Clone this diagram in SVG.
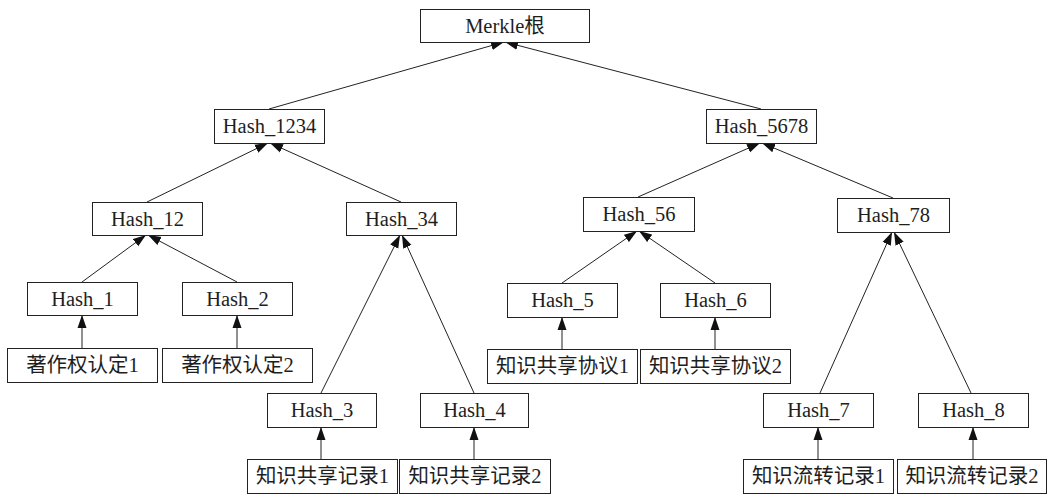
<svg xmlns="http://www.w3.org/2000/svg" width="1047" height="495" viewBox="0 0 1047 495">
  <style>
    .box { fill: #ffffff; stroke: #222222; stroke-width: 1; }
    .lbl { font-family: "Liberation Serif", "Noto Sans CJK SC", serif; font-size: 20.5px; fill: #1e1e1e; text-anchor: middle; }
    .edge { stroke: #222222; stroke-width: 1; fill: none; marker-end: url(#tip); }
  </style>
  <defs>
    <marker id="tip" markerUnits="userSpaceOnUse" markerWidth="13" markerHeight="10" refX="13" refY="5" orient="auto">
      <path d="M0,0.5 L13,5 L0,9.5 z" fill="#111111"/>
    </marker>
  </defs>
  <rect width="1047" height="495" fill="#ffffff"/>

  <!-- connectors: child top centre to parent bottom centre -->
  <g id="connectors">
    <line class="edge" x1="269" y1="109" x2="504" y2="42"/>
    <line class="edge" x1="761" y1="109" x2="505" y2="42"/>
    <line class="edge" x1="147" y1="202" x2="268" y2="143"/>
    <line class="edge" x1="401" y1="202" x2="270" y2="143"/>
    <line class="edge" x1="638" y1="197" x2="760" y2="143"/>
    <line class="edge" x1="893" y1="198" x2="762" y2="143"/>
    <line class="edge" x1="82" y1="282" x2="146" y2="235"/>
    <line class="edge" x1="237" y1="282" x2="148" y2="235"/>
    <line class="edge" x1="321" y1="393" x2="400" y2="235"/>
    <line class="edge" x1="474" y1="393" x2="402" y2="235"/>
    <line class="edge" x1="562" y1="283" x2="637" y2="231"/>
    <line class="edge" x1="715" y1="283" x2="639" y2="231"/>
    <line class="edge" x1="820" y1="393" x2="892" y2="232"/>
    <line class="edge" x1="971" y1="393" x2="894" y2="232"/>
    <line class="edge" x1="82" y1="348" x2="82" y2="315"/>
    <line class="edge" x1="237" y1="348" x2="237" y2="315"/>
    <line class="edge" x1="562" y1="349" x2="562" y2="317"/>
    <line class="edge" x1="715" y1="349" x2="715" y2="317"/>
    <line class="edge" x1="321" y1="459" x2="321" y2="427"/>
    <line class="edge" x1="474" y1="459" x2="474" y2="427"/>
    <line class="edge" x1="818" y1="459" x2="818" y2="427"/>
    <line class="edge" x1="973" y1="459" x2="973" y2="427"/>
  </g>

  <!-- root -->
  <g id="root">
    <rect class="box" x="420.5" y="9.5" width="169" height="33"/>
    <text class="lbl" x="505" y="33">Merkle根</text>
  </g>

  <!-- level 1 -->
  <g id="hash-1234">
    <rect class="box" x="214.5" y="109.5" width="110" height="34"/>
    <text class="lbl" x="269.5" y="133">Hash_1234</text>
  </g>
  <g id="hash-5678">
    <rect class="box" x="706.5" y="109.5" width="110" height="34"/>
    <text class="lbl" x="761.5" y="133">Hash_5678</text>
  </g>

  <!-- level 2 -->
  <g id="hash-12">
    <rect class="box" x="92.5" y="202.5" width="110" height="33"/>
    <text class="lbl" x="147.5" y="226">Hash_12</text>
  </g>
  <g id="hash-34">
    <rect class="box" x="346.5" y="202.5" width="110" height="33"/>
    <text class="lbl" x="401.5" y="226">Hash_34</text>
  </g>
  <g id="hash-56">
    <rect class="box" x="583.5" y="197.5" width="111" height="34"/>
    <text class="lbl" x="639" y="221">Hash_56</text>
  </g>
  <g id="hash-78">
    <rect class="box" x="837.5" y="198.5" width="112" height="34"/>
    <text class="lbl" x="893.5" y="222">Hash_78</text>
  </g>

  <!-- level 3 -->
  <g id="hash-1">
    <rect class="box" x="27.5" y="282.5" width="110" height="33"/>
    <text class="lbl" x="82.5" y="306">Hash_1</text>
  </g>
  <g id="hash-2">
    <rect class="box" x="182.5" y="282.5" width="110" height="33"/>
    <text class="lbl" x="237.5" y="306">Hash_2</text>
  </g>
  <g id="hash-3">
    <rect class="box" x="267.5" y="393.5" width="109" height="34"/>
    <text class="lbl" x="322" y="417">Hash_3</text>
  </g>
  <g id="hash-4">
    <rect class="box" x="420.5" y="393.5" width="108" height="34"/>
    <text class="lbl" x="474.5" y="417">Hash_4</text>
  </g>
  <g id="hash-5">
    <rect class="box" x="507.5" y="283.5" width="110" height="34"/>
    <text class="lbl" x="562.5" y="307">Hash_5</text>
  </g>
  <g id="hash-6">
    <rect class="box" x="660.5" y="283.5" width="110" height="34"/>
    <text class="lbl" x="715.5" y="307">Hash_6</text>
  </g>
  <g id="hash-7">
    <rect class="box" x="763.5" y="393.5" width="110" height="34"/>
    <text class="lbl" x="818.5" y="417">Hash_7</text>
  </g>
  <g id="hash-8">
    <rect class="box" x="918.5" y="393.5" width="110" height="34"/>
    <text class="lbl" x="973.5" y="417">Hash_8</text>
  </g>

  <!-- data blocks -->
  <g id="leaf-copyright-1">
    <rect class="box" x="7.5" y="348.5" width="150" height="34"/>
    <text class="lbl" x="82.5" y="372">著作权认定1</text>
  </g>
  <g id="leaf-copyright-2">
    <rect class="box" x="162.5" y="348.5" width="150" height="34"/>
    <text class="lbl" x="237.5" y="372">著作权认定2</text>
  </g>
  <g id="leaf-share-record-1">
    <rect class="box" x="247.5" y="459.5" width="150" height="34"/>
    <text class="lbl" x="322.5" y="483">知识共享记录1</text>
  </g>
  <g id="leaf-share-record-2">
    <rect class="box" x="399.5" y="459.5" width="151" height="34"/>
    <text class="lbl" x="475" y="483">知识共享记录2</text>
  </g>
  <g id="leaf-share-protocol-1">
    <rect class="box" x="487.5" y="349.5" width="150" height="34"/>
    <text class="lbl" x="562.5" y="373">知识共享协议1</text>
  </g>
  <g id="leaf-share-protocol-2">
    <rect class="box" x="640.5" y="349.5" width="150" height="34"/>
    <text class="lbl" x="715.5" y="373">知识共享协议2</text>
  </g>
  <g id="leaf-transfer-record-1">
    <rect class="box" x="743.5" y="459.5" width="150" height="34"/>
    <text class="lbl" x="818.5" y="483">知识流转记录1</text>
  </g>
  <g id="leaf-transfer-record-2">
    <rect class="box" x="897.5" y="459.5" width="149" height="34"/>
    <text class="lbl" x="972" y="483">知识流转记录2</text>
  </g>
</svg>
